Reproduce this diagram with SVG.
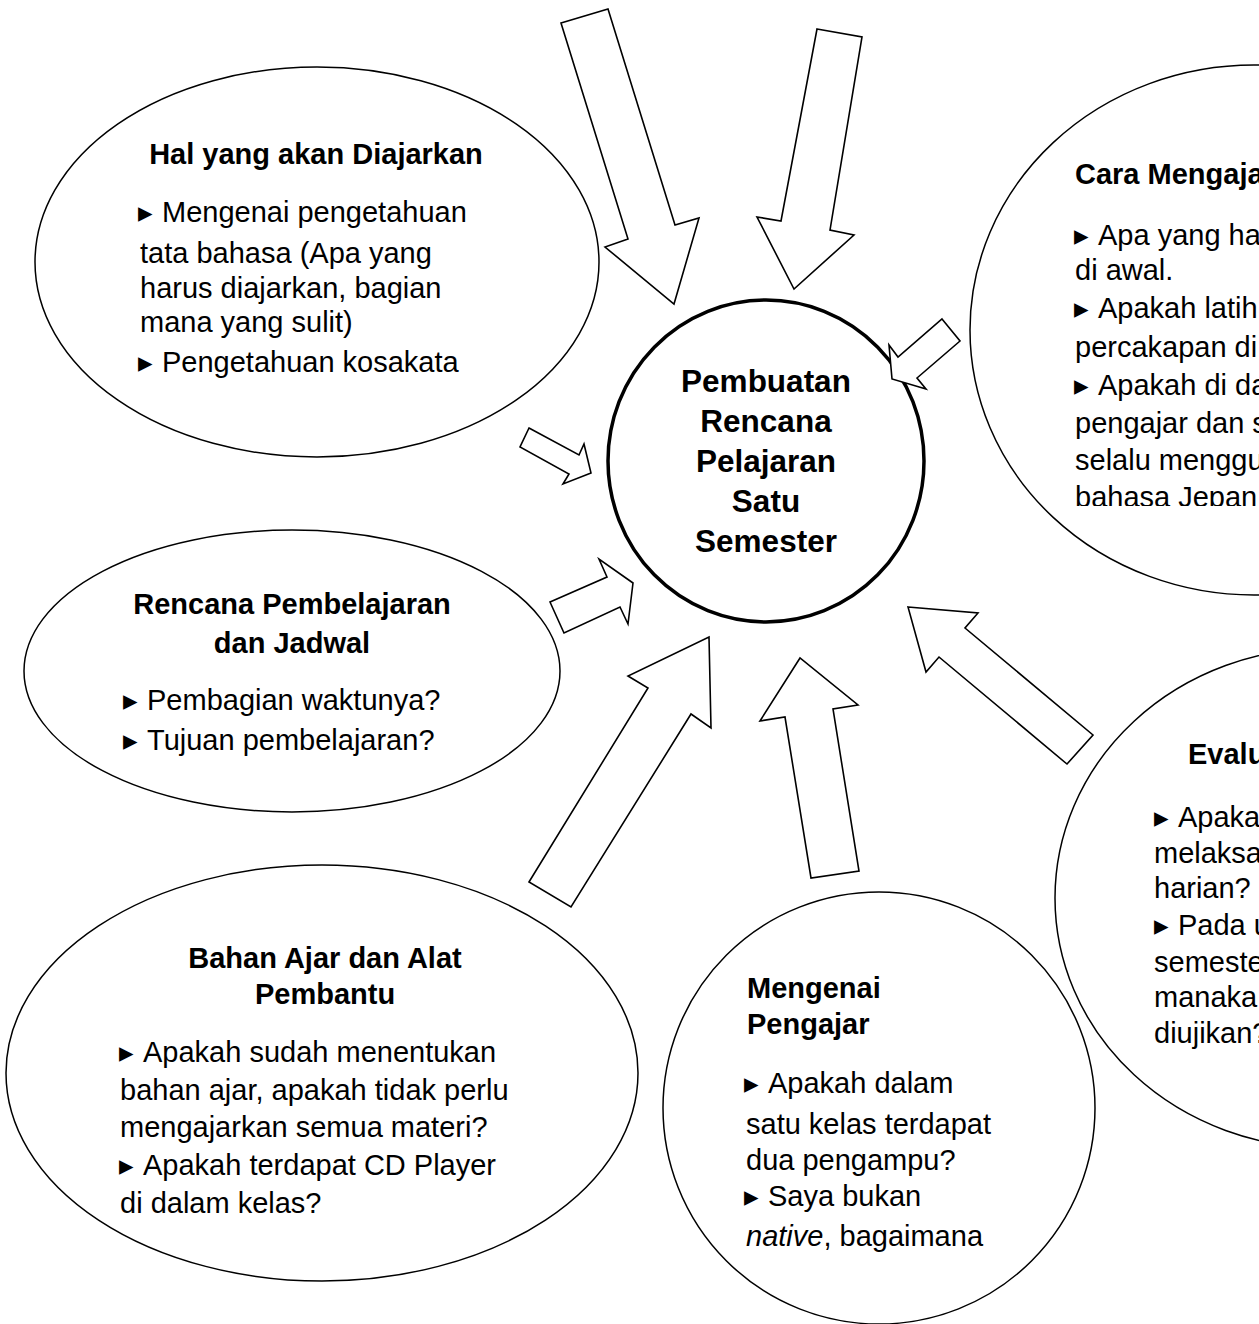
<svg xmlns="http://www.w3.org/2000/svg" width="1259" height="1324" viewBox="0 0 1259 1324">
<style>
.bg{fill:#fff}
.node{fill:#fff;stroke:#000;stroke-width:1.5}
.center{fill:#fff;stroke:#000;stroke-width:3.5}
.arrow{fill:#fff;stroke:#000;stroke-width:1.6;stroke-linejoin:miter}
text{font-family:"Liberation Sans",Arial,sans-serif;font-size:29px;fill:#000}
.t{font-weight:bold}
.c{font-weight:bold;font-size:31.5px;text-anchor:middle}
.m{text-anchor:middle}
.b{font-family:"DejaVu Sans",sans-serif;font-size:29px}
</style>
<defs>
<clipPath id="clipCara"><rect x="960" y="0" width="299" height="506"/></clipPath>
</defs>
<rect class="bg" x="0" y="0" width="1259" height="1324"/>

<g id="node-hal">
<ellipse class="node" cx="317" cy="262" rx="282" ry="195"/>
<text class="t m" x="316" y="164">Hal yang akan Diajarkan</text>
<text x="138" y="222"><tspan class="b">▸ </tspan><tspan x="162">Mengenai pengetahuan</tspan></text>
<text x="140" y="263">tata bahasa (Apa yang</text>
<text x="140" y="298">harus diajarkan, bagian</text>
<text x="140" y="332">mana yang sulit)</text>
<text x="138" y="372"><tspan class="b">▸ </tspan><tspan x="162">Pengetahuan kosakata</tspan></text>
</g>

<g id="node-cara">
<ellipse class="node" cx="1254" cy="330" rx="284" ry="265"/>
<g clip-path="url(#clipCara)">
<text class="t" x="1075" y="184">Cara Mengaja</text>
<text x="1074" y="245"><tspan class="b">▸ </tspan><tspan x="1098">Apa yang ha</tspan></text>
<text x="1075" y="280">di awal.</text>
<text x="1074" y="318"><tspan class="b">▸ </tspan><tspan x="1098">Apakah latih</tspan></text>
<text x="1075" y="357">percakapan di</text>
<text x="1074" y="395"><tspan class="b">▸ </tspan><tspan x="1098">Apakah di da</tspan></text>
<text x="1075" y="433">pengajar dan s</text>
<text x="1075" y="470">selalu menggu</text>
<text x="1075" y="507">bahasa Jepan</text>
</g>
</g>

<g id="node-rencana">
<ellipse class="node" cx="292" cy="671" rx="268" ry="141"/>
<text class="t m" x="292" y="614">Rencana Pembelajaran</text>
<text class="t m" x="292" y="653">dan Jadwal</text>
<text x="123" y="710"><tspan class="b">▸ </tspan><tspan x="147">Pembagian waktunya?</tspan></text>
<text x="123" y="750"><tspan class="b">▸ </tspan><tspan x="147">Tujuan pembelajaran?</tspan></text>
</g>

<g id="node-bahan">
<ellipse class="node" cx="322" cy="1073" rx="316" ry="208"/>
<text class="t m" x="325" y="968">Bahan Ajar dan Alat</text>
<text class="t m" x="325" y="1004">Pembantu</text>
<text x="119" y="1062"><tspan class="b">▸ </tspan><tspan x="143">Apakah sudah menentukan</tspan></text>
<text x="120" y="1100">bahan ajar, apakah tidak perlu</text>
<text x="120" y="1137">mengajarkan semua materi?</text>
<text x="119" y="1175"><tspan class="b">▸ </tspan><tspan x="143">Apakah terdapat CD Player</tspan></text>
<text x="120" y="1213">di dalam kelas?</text>
</g>

<g id="node-pengajar">
<circle class="node" cx="879" cy="1108" r="216"/>
<text class="t" x="747" y="998">Mengenai</text>
<text class="t" x="747" y="1034">Pengajar</text>
<text x="744" y="1093"><tspan class="b">▸ </tspan><tspan x="768">Apakah dalam</tspan></text>
<text x="746" y="1134">satu kelas terdapat</text>
<text x="746" y="1170">dua pengampu?</text>
<text x="744" y="1206"><tspan class="b">▸ </tspan><tspan x="768">Saya bukan</tspan></text>
<text x="746" y="1246"><tspan font-style="italic">native</tspan>, bagaimana</text>
</g>

<g id="node-evaluasi">
<ellipse class="node" cx="1325" cy="898" rx="270" ry="250"/>
<text class="t" x="1188" y="764">Evalu</text>
<text x="1154" y="827"><tspan class="b">▸ </tspan><tspan x="1178">Apaka</tspan></text>
<text x="1154" y="863">melaksa</text>
<text x="1154" y="898">harian?</text>
<text x="1154" y="935"><tspan class="b">▸ </tspan><tspan x="1178">Pada u</tspan></text>
<text x="1154" y="972">semeste</text>
<text x="1154" y="1007">manaka</text>
<text x="1154" y="1043">diujikan?</text>
</g>

<g id="node-center">
<ellipse class="center" cx="766" cy="461" rx="158" ry="161"/>
<text class="c" x="766" y="392">Pembuatan</text>
<text class="c" x="766" y="432">Rencana</text>
<text class="c" x="766" y="472">Pelajaran</text>
<text class="c" x="766" y="512">Satu</text>
<text class="c" x="766" y="552">Semester</text>
</g>

<g id="connectors">
<polygon class="arrow" points="561,23 608,9 675,225 699,218 674,304 605,247 628,239"/>
<polygon class="arrow" points="817,29 862,37 830,230 854,235 794,289 757,217 781,221"/>
<polygon class="arrow" points="942,319 960,341 917,378 926,389 892,379 889,345 898,357"/>
<polygon class="arrow" points="529,428 579,455 584,444 591,473 563,484 569,474 520,447"/>
<polygon class="arrow" points="550,602 607,577 599,559 633,583 628,624 620,607 564,633"/>
<polygon class="arrow" points="529,882 648,688 628,676 709,637 711,728 691,714 571,907"/>
<polygon class="arrow" points="811,878 785,717 760,721 800,658 858,705 833,709 859,871"/>
<polygon class="arrow" points="908,607 978,613 965,628 1093,735 1067,764 939,657 926,672"/>
</g>
</svg>
